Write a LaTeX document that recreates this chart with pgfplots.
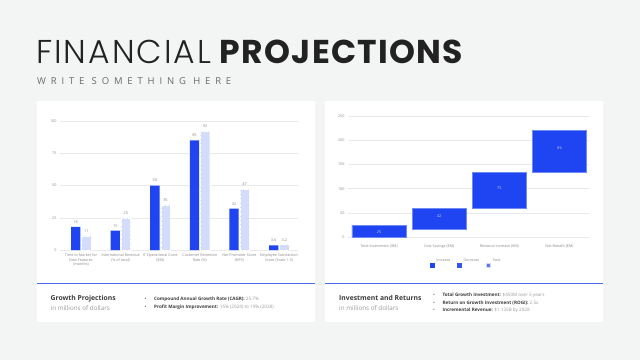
\documentclass[border=0pt]{standalone}
\usepackage{fontspec}
\usepackage{pgfplots}
\pgfplotsset{compat=1.18}
\setmainfont{Open Sans}
\newfontfamily\poplight{Poppins Light}
\newfontfamily\popreg{Poppins}
\definecolor{bgc}{HTML}{F3F4F4}
\definecolor{cone}{HTML}{1F45F2}
\definecolor{ctwo}{HTML}{D4DCFB}
\definecolor{gridc}{HTML}{E8E9EC}
\definecolor{tickc}{HTML}{8A8A8A}
\definecolor{linec}{HTML}{4D6CF0}
\definecolor{titc}{HTML}{222222}
\definecolor{subc}{HTML}{6A6A6A}
\definecolor{boldc}{HTML}{3C3C3C}
\definecolor{regc}{HTML}{9A9A9A}
\definecolor{cdec}{HTML}{3356F0}
\definecolor{ctot}{HTML}{5A78F3}
\definecolor{edgec}{HTML}{6F8AF5}
\pgfplotstableread{
x a b
0 18 11
1 15 25
2 50 35
3 85 92
4 32 47
5 3.6 4.2
}\growth
\pgfplotstableread{
x base val
0 -8 25
1 17 42
2 59 75
3 134 86
}\water
\begin{document}
\begin{tikzpicture}
\begin{scope}[x=1pt,y=1pt]
\fill[bgc] (0,0) rectangle (640,360);
\useasboundingbox (0,0) rectangle (640,360);
\fill[white] (37,38) rectangle (315,259);
\fill[white] (325,38) rectangle (603,259);
\draw[linec, line width=1pt] (37,77) -- (315,77);
\draw[linec, line width=1pt] (325,77) -- (603,77);
\node[anchor=base west, inner sep=0, text=titc, font=\fontsize{33}{38}\selectfont] at (36,296.7) {{\poplight\addfontfeature{LetterSpace=6}FINANCIAL} {\popreg\bfseries\addfontfeature{LetterSpace=4}PROJECTIONS}};
\node[anchor=base west, inner sep=0, text=subc, font=\fontsize{9.5}{12}\selectfont\addfontfeature{LetterSpace=51}] at (37,276) {WRITE SOMETHING HERE};
% bottom texts
\node[anchor=base west, inner sep=0, text=boldc, font=\fontsize{6.8}{8}\selectfont\bfseries] at (50.5,59.5) {Growth Projections};
\node[anchor=base west, inner sep=0, text=regc, font=\fontsize{6.3}{8}\selectfont] at (50.5,50) {in millions of dollars};
\node[anchor=base west, inner sep=0, text=boldc, font=\fontsize{4.6}{6}\selectfont] at (144.5,59.3) {\textbullet};
\node[anchor=base west, inner sep=0, font=\fontsize{4.6}{6}\selectfont] at (154,59.3) {\textcolor{boldc}{\bfseries Compound Annual Growth Rate (CAGR):} \textcolor{regc}{25.7\%}};
\node[anchor=base west, inner sep=0, text=boldc, font=\fontsize{4.6}{6}\selectfont] at (144.5,51.7) {\textbullet};
\node[anchor=base west, inner sep=0, font=\fontsize{4.6}{6}\selectfont] at (154,51.7) {\textcolor{boldc}{\bfseries Profit Margin Improvement:} \textcolor{regc}{15\% (2024) to 19\% (2028)}};
\node[anchor=base west, inner sep=0, text=boldc, font=\fontsize{6.8}{8}\selectfont\bfseries] at (339,59.5) {Investment and Returns};
\node[anchor=base west, inner sep=0, text=regc, font=\fontsize{6.3}{8}\selectfont] at (339,50) {in millions of dollars};
\node[anchor=base west, inner sep=0, text=boldc, font=\fontsize{4.6}{6}\selectfont] at (433,63.3) {\textbullet};
\node[anchor=base west, inner sep=0, font=\fontsize{4.6}{6}\selectfont] at (442.3,63.3) {\textcolor{boldc}{\bfseries Total Growth Investment:} \textcolor{regc}{\$450M over 5 years}};
\node[anchor=base west, inner sep=0, text=boldc, font=\fontsize{4.6}{6}\selectfont] at (433,56) {\textbullet};
\node[anchor=base west, inner sep=0, font=\fontsize{4.6}{6}\selectfont] at (442.3,56) {\textcolor{boldc}{\bfseries Return on Growth Investment (ROGI):} \textcolor{regc}{2.5x}};
\node[anchor=base west, inner sep=0, text=boldc, font=\fontsize{4.6}{6}\selectfont] at (433,48.3) {\textbullet};
\node[anchor=base west, inner sep=0, font=\fontsize{4.6}{6}\selectfont] at (442.3,48.3) {\textcolor{boldc}{\bfseries Incremental Revenue:} \textcolor{regc}{\$1.125B by 2028}};
\end{scope}
% left chart
\begin{axis}[
  at={(60pt,110pt)}, anchor=south west, scale only axis, width=238pt, height=129pt,
  xmin=-0.53, xmax=5.48, ymin=0, ymax=100,
  ytick={0,25,50,75,100}, xtick={0,...,5},
  xticklabels={{Time to Market for\\New Features\\(months)},{International Revenue\\(\% of total)},{IT Operational Costs\\(\$M)},{Customer Retention\\Rate (\%)},{Net Promoter Score\\(NPS)},{Employee Satisfaction\\Score (Scale 1-5)}},
  axis line style={draw=none}, major tick length=0pt,
  ymajorgrids, grid style={gridc, line width=0.5pt},
  ybar, bar width=9.3pt,
  tick label style={font=\fontsize{3.7}{4.8}\selectfont, text=tickc},
  xticklabel style={align=center},
  nodes near coords, nodes near coords style={font=\fontsize{3.9}{4.5}\selectfont, text=tickc},
  /pgf/number format/assume math mode=true,
  clip=false
]
\addplot[fill=cone, draw=none, bar shift=-5.3pt] table[x=x, y=a] {\growth};
\addplot[fill=ctwo, draw=white, densely dotted, line width=0.3pt, bar shift=5.3pt] table[x=x, y=b] {\growth};
\end{axis}
% right chart
\begin{axis}[
  at={(348pt,119pt)}, anchor=south west, scale only axis, width=241pt, height=125pt,
  xmin=-0.515, xmax=3.49, ymin=-8, ymax=250,
  ytick={0,50,...,250}, xtick={0,...,3},
  xticklabels={Total Investment (\$M),Cost Savings (\$M),Revenue Increase (\$M),Net Benefit (\$M)},
  axis line style={draw=none}, major tick length=0pt,
  ymajorgrids, grid style={gridc, line width=0.5pt},
  ybar stacked, bar width=54pt,
  tick label style={font=\fontsize{3.7}{4.8}\selectfont, text=tickc},
  /pgf/number format/assume math mode=true,
  clip=false,
  legend style={at={(0.49,-0.17)}, anchor=center, draw=none, fill=none, font=\fontsize{3.6}{4.5}\selectfont, text=tickc, legend columns=3, inner sep=0pt, /tikz/every even column/.append style={column sep=4.5pt}},
]
\addplot[fill=none, draw=none, forget plot] table[x=x, y=base] {\water};
\addplot[fill=cone, draw=edgec, line width=0.25pt, forget plot] table[x=x, y=val] {\water};
\addlegendimage{legend image code/.code={\fill[cone] (0pt,-6pt) rectangle (4.4pt,-1.6pt);}}
\addlegendentry{Increase}
\addlegendimage{legend image code/.code={\fill[cdec] (0pt,-6pt) rectangle (4.4pt,-1.6pt);}}
\addlegendentry{Decrease}
\addlegendimage{legend image code/.code={\fill[ctot, draw=ctwo, line width=0.4pt] (0pt,-6pt) rectangle (4.4pt,-1.6pt);}}
\addlegendentry{Total}
\end{axis}
\begin{axis}[
  at={(348pt,119pt)}, anchor=south west, scale only axis, width=241pt, height=125pt,
  xmin=-0.515, xmax=3.49, ymin=-8, ymax=250, hide axis, clip=false
]
\addplot[only marks, mark=*, mark size=0.01pt, mark options={draw=none, fill=none},
  nodes near coords, point meta=explicit symbolic,
  nodes near coords align=center,
  nodes near coords style={font=\fontsize{3.8}{4.5}\selectfont, text=ctwo}]
  coordinates {(0,10)[25] (1,43)[42] (2,102)[75] (3,183)[86]};
\end{axis}
\end{tikzpicture}
\end{document}
